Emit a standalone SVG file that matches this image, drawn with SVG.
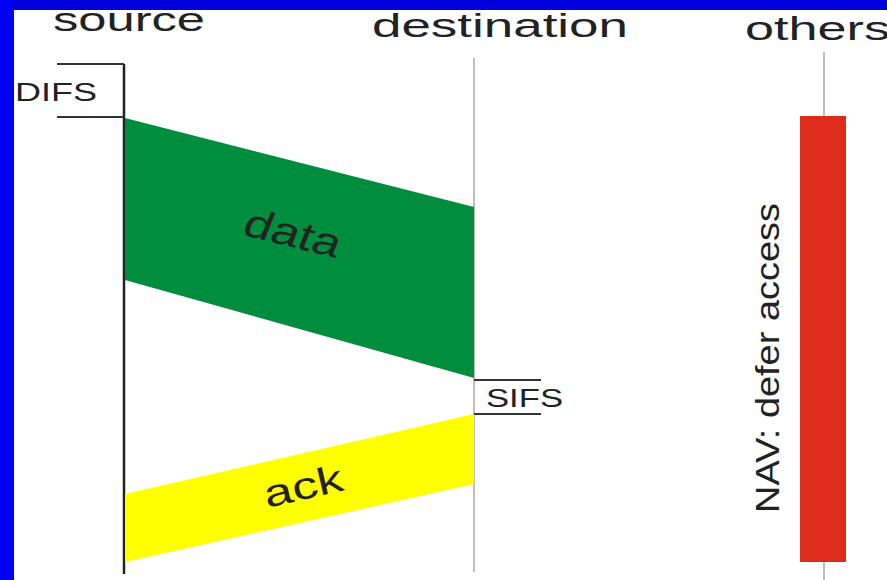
<svg xmlns="http://www.w3.org/2000/svg" width="887" height="580" viewBox="0 0 887 580">
<style>
.t{font-family:"Liberation Sans","DejaVu Sans",sans-serif;fill:#222}
.life{stroke:#aaa;stroke-width:1.5;fill:none}
.br{stroke:#333;stroke-width:2;fill:none}
</style>
<rect x="0" y="0" width="887" height="580" fill="#ffffff"/>
<rect x="0" y="0" width="887" height="10" fill="#0000DD"/>
<rect x="0" y="0" width="14" height="580" fill="#0000F5"/>
<g id="connectors">
<line class="life" x1="474" y1="58" x2="474" y2="572"/>
<line class="life" x1="824" y1="52" x2="824" y2="580"/>
</g>
<g id="source">
<text class="t" x="129" y="31" font-size="34" text-anchor="middle" textLength="152" lengthAdjust="spacingAndGlyphs">source</text>
<line x1="124" y1="64" x2="124" y2="574" stroke="#222" stroke-width="2.5"/>
</g>
<g id="difs">
<polyline class="br" points="57,64 124,64"/>
<polyline class="br" points="57,117 124,117"/>
<text class="t" x="15" y="101" font-size="26" textLength="82" lengthAdjust="spacingAndGlyphs">DIFS</text>
</g>
<g id="data">
<polygon points="125,118 474,207 474,378 125,280" fill="#008E3E"/>
<text class="t" font-size="40" text-anchor="middle" transform="translate(288,246) rotate(14) skewX(-8)" textLength="98" lengthAdjust="spacingAndGlyphs">data</text>
</g>
<g id="destination">
<text class="t" x="500" y="37" font-size="34" text-anchor="middle" textLength="256" lengthAdjust="spacingAndGlyphs">destination</text>
</g>
<g id="sifs">
<line class="br" x1="474" y1="380" x2="541" y2="380"/>
<line class="br" x1="474" y1="414" x2="541" y2="414"/>
<text class="t" x="486" y="407" font-size="26" textLength="77" lengthAdjust="spacingAndGlyphs">SIFS</text>
</g>
<g id="ack">
<polygon points="125,494 474,414 474,484 125,562" fill="#FFFF00"/>
<text class="t" font-size="38" text-anchor="middle" transform="translate(306,499) rotate(-13)" textLength="80" lengthAdjust="spacingAndGlyphs">ack</text>
</g>
<g id="others">
<text class="t" x="745" y="40" font-size="34" textLength="145" lengthAdjust="spacingAndGlyphs">others</text>
</g>
<g id="nav">
<rect x="800" y="116" width="46" height="446" fill="#DD2C1A"/>
<text class="t" font-size="34" text-anchor="middle" transform="translate(779,358) rotate(-90)" textLength="310" lengthAdjust="spacingAndGlyphs">NAV: defer access</text>
</g>
</svg>
